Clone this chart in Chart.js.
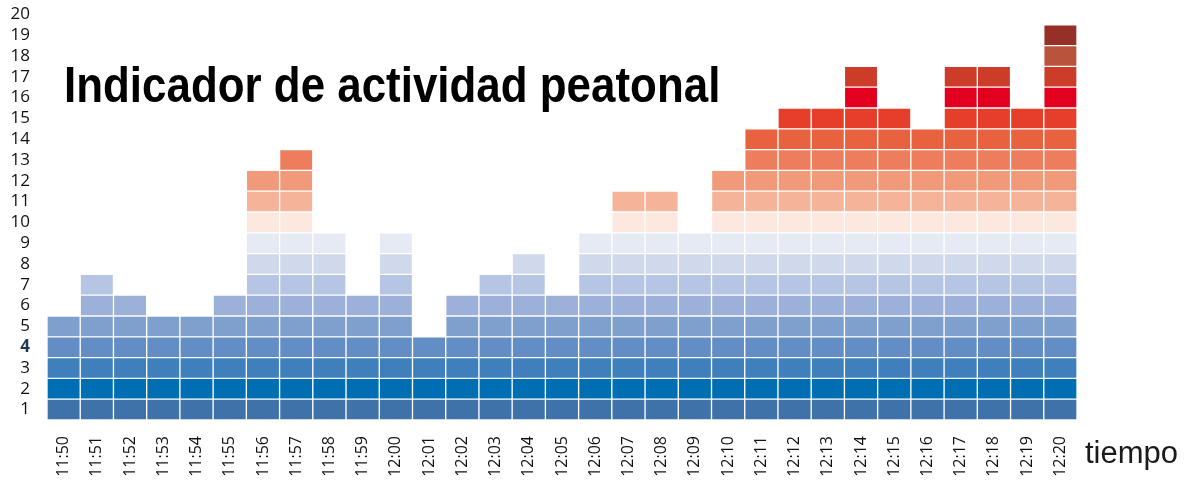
<!DOCTYPE html>
<html>
<head>
<meta charset="utf-8">
<script src="https://cdn.jsdelivr.net/npm/chart.js@4/dist/chart.umd.min.js"></script>
<style>
  body{ margin:0; background:#fff; }
  #wrap{ position:relative; width:1184px; height:481px; }
  #title{ position:absolute; left:64px; top:60px; font-family:'Liberation Sans',Arial,sans-serif; font-weight:bold; font-size:50px; line-height:1; color:#000; white-space:nowrap; transform-origin:0 0; }
  #xname{ position:absolute; left:1085px; top:437px; font-family:'Liberation Sans',Arial,sans-serif; font-size:31px; line-height:1; color:#1a1a1a; }
</style>
</head>
<body>
<div id="wrap">
  <canvas id="peatonChart"></canvas>
  <div id="title">Indicador de actividad peatonal</div>
  <div id="xname">tiempo</div>
</div>
<script>
// minutes on the x axis
const minutes = ['11:50','11:51','11:52','11:53','11:54','11:55','11:56','11:57','11:58','11:59','12:00',
  '12:01','12:02','12:03','12:04','12:05','12:06','12:07','12:08','12:09','12:10',
  '12:11','12:12','12:13','12:14','12:15','12:16','12:17','12:18','12:19','12:20'];
// activity level per minute (number of stacked cells)
const activity = [5,7,6,5,5,6,12,13,9,6,9,4,6,7,8,6,9,11,11,9,12,14,15,15,17,15,14,17,17,15,19];
// y tick labels (one per cell row)
const yLabels = ['1','2','3','4','5','6','7','8','9','10','11','12','13','14','15','16','17','18','19','20'];
// colour of each cell row, bottom to top
const levelColors = ['#3e72a8','#006eb2','#3f7fbc','#638ec5','#7f9fcd','#9cb1d9','#b6c5e3','#d0d9ec','#e5eaf5',
  '#fce8de','#f5b49a','#f09a7a','#ec7e5e','#e9623f','#e53f2b','#e2001e','#cd3b29','#b9533b','#962f27'];

// condensed look for the title: squeeze a bold sans to the reference width
const t = document.getElementById('title');
t.style.transform = 'scaleX(' + (656 / t.offsetWidth) + ')';

const datasets = levelColors.map((c, i) => ({
  label: 'nivel ' + (i + 1),
  data: activity.map(h => h >= i + 1 ? 1 : null),
  backgroundColor: c,
  borderColor: '#ffffff',
  borderWidth: 1,
  borderSkipped: false,
  stack: 'a'
}));

const ctx = document.getElementById('peatonChart').getContext('2d');
new Chart(ctx, {
  type: 'bar',
  data: { labels: minutes, datasets },
  options: {
    responsive: true,
    maintainAspectRatio: false,
    animation: false,
    layout: { padding: { top: 4, right: 107, left: 0, bottom: 0 } },
    plugins: { legend: { display: false }, tooltip: { enabled: false } },
    datasets: { bar: { barPercentage: 1, categoryPercentage: 1 } },
    scales: {
      x: {
        stacked: true,
        grid: { display: false, drawTicks: false },
        border: { display: false },
        ticks: {
          autoSkip: false, minRotation: 90, maxRotation: 90, padding: 16,
          color: '#111', font: { family: "'Open Sans', sans-serif", size: 16 }
        },
        afterFit: s => { s.height = 61; s.paddingLeft = 0; s.paddingRight = 0; }
      },
      y: {
        stacked: true,
        min: 0, max: 20,
        grid: { display: false, drawTicks: false },
        border: { display: false },
        afterBuildTicks: s => { s.ticks = yLabels.map((l, i) => ({ value: i + 0.5 })); },
        ticks: {
          autoSkip: false,
          padding: 17,
          color: c => c.index === 3 ? '#1d3a4a' : '#111',
          font: c => ({ family: "'Open Sans', sans-serif", size: 17, weight: c.index === 3 ? 'bold' : 'normal' }),
          callback: (v, i) => yLabels[i]
        },
        afterFit: s => { s.width = 47; s.paddingTop = 0; s.paddingBottom = 0; }
      }
    }
  }
});
</script>
</body>
</html>
